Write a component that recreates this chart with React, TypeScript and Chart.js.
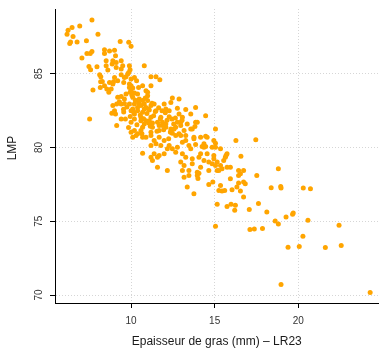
import React, { useEffect, useRef } from "react";
import { Chart, registerables } from "chart.js";

Chart.register(...registerables);

// Epaisseur de gras (mm) – LR23
const fat: number[] = [
  7.66, 6.93, 6.47, 6.23, 6.53, 6.17, 6.38, 6.33, 6.77, 7.33, 8.02, 9.35, 9.86, 10.0, 7.06, 7.36, 7.66, 7.56, 8.41, 8.71,
  9.01, 8.41, 9.07, 8.51, 8.91, 9.41, 8.87, 7.48, 7.58, 7.96, 8.51, 8.61, 9.11, 9.41, 9.9, 9.94, 8.12, 8.19, 9.8, 9.7,
  10.0, 10.33, 8.28, 8.95, 9.56, 9.9, 7.72, 8.16, 8.55, 8.81, 9.9, 10.1, 9.11, 9.5, 9.86, 9.6, 10.79, 9.01, 10.2, 11.19,
  11.49, 9.41, 11.72, 10.0, 10.69, 11.19, 9.94, 10.2, 10.39, 10.89, 10.99, 10.1, 10.49, 10.69, 10.99, 10.59, 10.89, 11.05, 10.2, 10.0,
  10.39, 11.38, 11.49, 11.98, 12.08, 12.28, 12.47, 12.87, 12.38, 12.77, 13.27, 13.57, 12.87, 13.07, 12.28, 12.44, 14.46, 13.96, 11.78, 11.88,
  11.68, 10.59, 10.79, 10.69, 10.59, 11.09, 11.28, 10.2, 12.77, 12.67, 12.97, 12.08, 12.38, 13.66, 13.82, 11.68, 12.47, 12.97, 13.27, 13.76,
  14.16, 14.55, 10.1, 10.3, 10.69, 11.19, 11.68, 8.18, 8.41, 8.71, 8.91, 8.67, 9.2, 10.0, 9.7, 10.45, 10.99, 9.2, 9.41, 9.6,
  8.91, 8.85, 9.14, 9.41, 9.6, 9.9, 10.49, 10.79, 11.19, 10.1, 10.39, 10.79, 11.09, 9.01, 9.07, 9.56, 10.2, 10.69, 11.19, 10.59,
  10.89, 11.05, 11.28, 7.52, 9.14, 9.41, 9.66, 10.0, 10.2, 10.65, 10.89, 11.19, 11.38, 11.49, 10.0, 10.39, 11.58, 11.88, 12.08, 12.97,
  13.36, 13.86, 12.57, 12.38, 12.67, 12.87, 13.17, 13.57, 13.76, 14.46, 14.95, 15.05, 14.85, 11.98, 11.19, 12.28, 12.47, 12.77, 12.67, 11.38,
  11.68, 11.98, 13.07, 13.27, 13.46, 13.57, 13.86, 14.36, 13.07, 13.27, 12.97, 13.17, 13.07, 13.66, 14.06, 13.66, 14.16, 13.96, 14.55, 14.95,
  14.85, 15.15, 15.35, 15.54, 15.68, 14.65, 15.25, 13.17, 13.46, 13.96, 13.36, 14.65, 14.89, 15.25, 15.44, 13.76, 14.36, 14.25, 14.46, 15.05,
  16.27, 17.46, 14.16, 14.95, 14.36, 14.65, 15.74, 15.64, 16.57, 15.05, 15.15, 15.44, 15.74, 15.94, 14.06, 16.43, 16.73, 16.54, 16.43, 17.52,
  18.81, 15.35, 15.6, 15.94, 16.04, 16.33, 16.54, 16.43, 16.73, 16.83, 16.73, 18.38, 15.15, 15.74, 15.98, 16.24, 16.2, 17.07, 17.62, 18.12,
  18.62, 18.81, 17.86, 17.37, 17.11, 15.05, 18.95, 18.97, 20.3, 20.73, 19.27, 19.7, 19.66, 20.58, 22.44, 20.28, 19.39, 20.06, 21.62, 22.57,
  18.97, 24.3, 13.86, 15.05, 10.69, 11.19, 11.58, 11.28, 11.58, 12.17, 13.46, 14.0, 11.78, 12.17, 15.35,
  9.3, 9.75, 10.15, 10.55, 10.95, 11.35, 11.75, 12.15, 12.55, 9.55, 9.95, 10.35, 10.75, 11.15, 11.55, 11.95, 12.35, 10.45,
  10.85, 11.25, 11.65, 12.05, 10.05, 9.85, 10.25, 11.45, 12.65, 13.05, 11.85, 12.25,
];

// LMP
const lmp: number[] = [
  88.65, 88.24, 88.13, 87.95, 87.52, 87.68, 87.16, 87.05, 87.16, 87.23, 87.68, 87.18, 87.14, 86.87, 86.06, 86.37, 86.51, 86.37, 86.62, 86.55,
  86.6, 86.37, 86.22, 85.88, 85.88, 85.88, 85.66, 85.49, 85.27, 85.47, 85.54, 85.25, 85.43, 85.32, 85.54, 85.27, 84.93, 84.8, 84.98, 84.8,
  84.64, 84.53, 84.48, 84.46, 84.41, 84.3, 83.9, 84.07, 83.97, 83.97, 84.07, 84.03, 85.76, 85.54, 85.09, 84.75, 85.54, 84.75, 84.75, 84.8,
  84.8, 84.93, 84.59, 84.19, 84.19, 84.19, 83.74, 83.7, 83.63, 83.85, 83.51, 83.4, 83.29, 83.18, 83.18, 82.84, 82.72, 82.61, 82.95, 82.5,
  82.5, 82.95, 82.5, 82.95, 82.61, 82.5, 83.36, 83.29, 83.06, 82.66, 82.57, 82.28, 82.28, 82.05, 82.09, 81.94, 82.16, 81.71, 82.05, 81.71,
  81.49, 81.82, 81.6, 81.37, 81.15, 81.82, 81.37, 81.94, 81.71, 81.37, 81.49, 81.37, 81.26, 81.26, 81.42, 81.15, 80.97, 80.81, 80.81, 80.7,
  80.7, 80.7, 80.7, 80.81, 80.7, 80.81, 80.7, 84.46, 84.19, 84.41, 84.3, 83.74, 84.53, 83.85, 83.63, 84.07, 83.74, 83.4, 83.45, 83.29,
  82.84, 82.32, 82.95, 82.95, 82.99, 82.95, 82.95, 82.95, 82.84, 82.61, 82.72, 82.61, 82.55, 82.5, 82.28, 82.41, 82.28, 82.39, 82.05, 82.05,
  81.82, 81.67, 81.67, 81.94, 81.49, 81.94, 81.94, 81.71, 81.15, 80.93, 80.7, 81.03, 80.47, 80.25, 81.03, 80.93, 81.71, 81.49, 81.6, 81.71,
  81.6, 81.71, 81.26, 81.03, 80.81, 80.93, 81.15, 81.26, 80.59, 80.76, 80.47, 80.29, 80.02, 80.47, 80.13, 80.13, 79.91, 80.02, 79.68, 79.57,
  79.46, 79.57, 80.36, 80.47, 80.13, 79.91, 80.2, 80.02, 79.57, 79.34, 79.01, 78.78, 78.45, 79.24, 79.34, 78.9, 78.67, 78.33, 79.57, 79.24,
  78.9, 79.01, 78.78, 79.12, 79.46, 78.45, 78.45, 77.99, 78.11, 78.11, 77.32, 77.5, 77.66, 77.09, 77.05, 76.87, 80.25, 80.07, 80.07, 80.02,
  80.47, 80.52, 79.57, 79.46, 79.12, 79.01, 79.57, 79.34, 79.41, 78.78, 78.45, 78.56, 78.67, 78.67, 78.26, 78.45, 78.45, 78.22, 78.11, 78.11,
  78.56, 77.43, 77.09, 77.88, 77.14, 77.32, 77.05, 77.59, 77.66, 77.55, 76.64, 77.28, 76.15, 76.01, 76.15, 76.08, 75.74, 75.79, 76.2, 75.63,
  75.02, 74.82, 74.51, 74.48, 74.44, 74.66, 77.36, 77.25, 77.25, 77.21, 75.29, 75.56, 75.47, 75.07, 74.73, 73.99, 73.24, 73.29, 73.22, 73.36,
  70.72, 70.18, 82.72, 81.26, 79.61, 79.34, 79.34, 79.12, 78.67, 78.45, 78.45, 77.9, 80.13, 79.91, 79.91,
  83.1, 82.75, 82.4, 82.2, 82.3, 82.15, 81.95, 81.85, 81.6, 82.6, 82.1, 81.55, 81.95, 81.45, 81.1, 81.2, 81.05, 83.05,
  83.35, 83.0, 82.7, 82.35, 83.55, 81.35, 83.2, 82.45, 82.0, 81.85, 82.5, 80.6,
];

const xTitle = "Epaisseur de gras (mm) – LR23";
const yTitle = "LMP";
const xRange = [5.45, 24.8];
const yRange = [69.46, 89.39];
const tickStep = 5;

const FONT = '"Liberation Sans", Arial, Helvetica, sans-serif';

const textPlugin = {
  id: "rTexts",
  afterDraw(chart: any) {
    const { ctx, chartArea } = chart;
    const y = chart.scales.y;
    ctx.save();
    ctx.fillStyle = "#333";
    ctx.font = `10px ${FONT}`;
    ctx.textAlign = "center";
    ctx.textBaseline = "middle";
    y.ticks.forEach((t: any) => {
      const py = y.getPixelForValue(t.value);
      ctx.save();
      ctx.translate(chartArea.left - 16, py);
      ctx.rotate(-Math.PI / 2);
      ctx.fillText(String(t.value), 0, 0);
      ctx.restore();
    });
    ctx.fillStyle = "#1a1a1a";
    ctx.font = `12px ${FONT}`;
    ctx.fillText(xTitle, (chartArea.left + chartArea.right) / 2, chart.height - 7);
    ctx.save();
    ctx.translate(13, 148);
    ctx.rotate(-Math.PI / 2);
    ctx.fillText(yTitle, 0, 0);
    ctx.restore();
    ctx.restore();
  },
};

export default function App() {
  const ref = useRef<HTMLCanvasElement | null>(null);
  useEffect(() => {
    document.body.style.margin = "0";
    if (!ref.current) return;
    const data = fat.map((x, i) => ({ x, y: lmp[i] }));
    const chart = new Chart(ref.current, {
      type: "scatter",
      data: {
        datasets: [
          {
            data,
            backgroundColor: "#FFA500",
            borderWidth: 0,
            pointRadius: 2.5,
            pointHoverRadius: 2.5,
          },
        ],
      },
      plugins: [textPlugin],
      options: {
        animation: false,
        responsive: false,
        events: [],
        layout: { padding: { top: 8, right: 0, left: 0, bottom: 0 } },
        plugins: { legend: { display: false }, tooltip: { enabled: false } },
        scales: {
          x: {
            type: "linear",
            min: xRange[0],
            max: xRange[1],
            afterFit: (s: any) => {
              s.height = 46;
            },
            ticks: {
              stepSize: tickStep,
              includeBounds: false,
              maxRotation: 0,
              color: "#333",
              padding: 7,
              font: { size: 10, family: FONT },
            },
            grid: {
              color: "#d6d6d6",
              lineWidth: 1,
              tickLength: 5,
              tickColor: "#000",
              tickWidth: 1,
            },
            border: { display: true, color: "#000", width: 1, dash: [1, 2] },
          },
          y: {
            type: "linear",
            min: yRange[0],
            max: yRange[1],
            afterFit: (s: any) => {
              s.width = 55;
            },
            ticks: {
              stepSize: tickStep,
              includeBounds: false,
              color: "rgba(0,0,0,0)",
              font: { size: 10, family: FONT },
            },
            grid: {
              color: "#d6d6d6",
              lineWidth: 1,
              tickLength: 5,
              tickColor: "#000",
              tickWidth: 1,
            },
            border: { display: true, color: "#000", width: 1, dash: [1, 2] },
          },
        },
      },
    });
    return () => chart.destroy();
  }, []);
  return (
    <div style={{ width: 381, height: 349 }}>
      <canvas ref={ref} width={381} height={349} style={{ display: "block", width: 381, height: 349 }} />
    </div>
  );
}
